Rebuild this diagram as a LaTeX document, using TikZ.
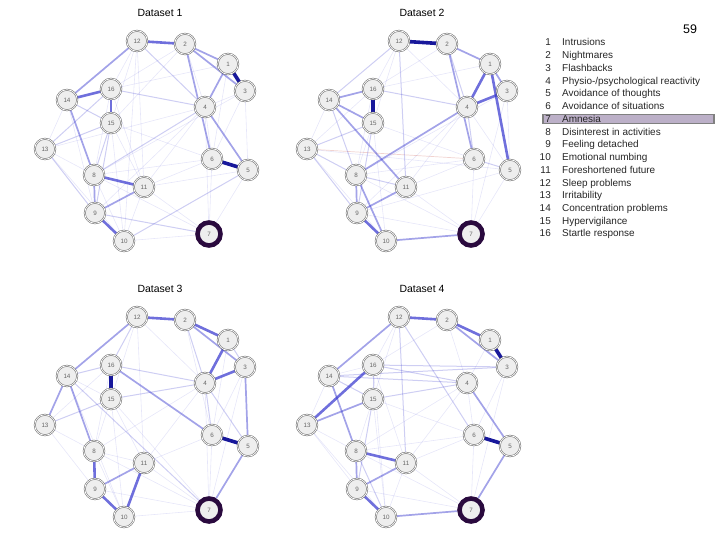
\documentclass[tikz,border=0pt]{standalone}
\usepackage{fontspec}
\setmainfont{Liberation Sans}
\usetikzlibrary{backgrounds}
\definecolor{edgeblue}{RGB}{50,50,205}
\definecolor{edgenavy}{RGB}{12,12,150}
\definecolor{negred}{RGB}{210,110,100}
\definecolor{ringgray}{RGB}{100,100,100}
\definecolor{nodefill}{RGB}{238,238,238}
\definecolor{amnesiaring}{RGB}{42,10,62}
\definecolor{lavender}{RGB}{188,176,200}

% the sixteen symptoms of one panel
\newcommand{\symptomnet}[2]{%
  \begin{scope}[shift={#2}]
    \foreach \n/\px/\py in {12/137/41, 2/185/44, 1/228/64, 3/245/91, 4/205/107, 16/111/89, 14/67/100, 15/111/123,
                            13/45/149, 6/212/159, 5/248/170, 8/94/175, 11/144/187, 9/95/213, 10/124/241}
      \node[symptom] (#1-\n) at (\px,\py) {\n};
    \node[amnesia] (#1-7) at (209,234) {7};
  \end{scope}}
% partial correlations of one panel, one strength at a time
\newcommand{\ties}[3]{\foreach \u/\v in {#3} \draw[#2] (#1-\u) -- (#1-\v);}

\begin{document}
\begin{tikzpicture}[x=1bp,y=-1bp,
  symptom/.style={circle,minimum size=20.5bp,inner sep=0pt,fill=nodefill,draw=ringgray,line width=0.5bp,
    double=white,double distance=0.8bp,font=\fontsize{6.3}{7}\selectfont,text=black!60},
  amnesia/.style={circle,minimum size=23bp,inner sep=0pt,fill=nodefill,draw=amnesiaring,line width=4.6bp,
    font=\fontsize{6.3}{7}\selectfont,text=black!60},
  w1/.style={edgeblue,line width=0.6bp,opacity=0.12},
  w2/.style={edgeblue,line width=1bp,opacity=0.24},
  w3/.style={edgeblue,line width=1.7bp,opacity=0.45},
  w4/.style={edgeblue,line width=2.6bp,opacity=0.7},
  w5/.style={edgenavy,line width=3.6bp,opacity=0.95},
  neg/.style={negred,line width=0.7bp,opacity=0.3},
  title/.style={font=\fontsize{10.5}{12}\selectfont}]
\useasboundingbox (0,0) rectangle (720,540);
% titles
\node[title] (title-a) at (160,13) {Dataset 1};
\node[title] (title-b) at (422,13) {Dataset 2};
\node[title] (title-c) at (160,289) {Dataset 3};
\node[title] (title-d) at (422,289) {Dataset 4};
% nodes
\symptomnet{a}{(0,0)}
\symptomnet{b}{(262,0)}
\symptomnet{c}{(0,276)}
\symptomnet{d}{(262,276)}
% edges
\begin{scope}[on background layer]
\ties{a}{w1}{12/15, 12/11, 2/4, 3/5, 4/6, 4/7, 6/7, 5/7, 10/7, 10/11, 13/8, 13/10, 4/11, 15/10, 16/8, 11/7, 2/16, 1/6, 3/6,
  4/13, 15/6, 8/6, 4/9, 12/16, 3/4, 14/13, 8/10, 16/11, 12/10, 2/15, 1/16, 3/8, 5/11, 6/11, 14/9, 15/11, 8/7}
\ties{a}{w2}{16/4, 13/16, 13/15, 14/15, 4/8, 5/10, 9/7, 15/8, 15/9, 12/4, 13/9}
\ties{a}{w3}{2/1, 1/4, 4/5, 12/14, 2/3, 8/9, 9/11, 14/8, 2/6}
\ties{a}{w4}{12/2, 16/15, 8/11, 9/10, 14/16}
\ties{a}{w5}{1/3, 6/5}
\ties{b}{w1}{12/16, 12/4, 3/7, 6/7, 4/5, 8/6, 15/8, 9/7, 11/7, 11/4, 13/10, 15/10, 3/8, 5/7, 13/16, 12/15, 16/1, 2/16, 3/5,
  4/9, 14/13, 15/6, 16/8, 11/6, 13/5, 8/7, 5/9}
\ties{b}{neg}{13/6}
\ties{b}{w2}{6/5, 13/8, 14/8, 16/4, 13/15, 12/14, 13/9, 8/11, 4/6, 12/11, 2/4, 15/9}
\ties{b}{w3}{2/1, 9/11, 8/9, 14/16, 14/11, 4/8, 2/6, 1/3, 8/10, 10/7, 14/15}
\ties{b}{w4}{1/4, 4/3, 9/10, 1/5}
\ties{b}{w5}{12/2, 16/15}
\ties{c}{w1}{15/7, 13/16, 13/9, 12/15, 12/11, 15/8, 15/10, 6/7, 4/7, 8/11, 8/10, 10/7, 9/7, 11/7, 4/8, 14/15, 12/4, 3/6,
  4/11, 13/8, 16/8, 14/10, 15/11, 6/11, 2/6, 3/7, 8/7, 1/6}
\ties{c}{w2}{4/6, 4/5, 1/3, 14/16, 16/4, 2/4, 14/7, 15/4, 13/15, 12/16}
\ties{c}{w3}{5/7, 9/11, 12/14, 14/13, 14/8, 16/6, 2/3, 3/5}
\ties{c}{w4}{12/2, 2/1, 1/4, 4/3, 8/9, 9/10, 11/10}
\ties{c}{w5}{6/5, 16/15}
\ties{d}{w1}{13/10, 13/9, 16/10, 15/6, 4/6, 2/4, 6/7, 11/7, 9/7, 3/7, 12/16, 8/6, 14/16, 13/14, 15/8, 2/16, 4/8, 11/10,
  12/15, 4/11, 3/6, 16/11, 1/4, 13/8, 15/10, 8/7, 6/11}
\ties{d}{w2}{14/4, 16/15, 12/6, 8/10, 15/9, 16/3, 14/3, 15/4, 12/11, 14/15, 16/4}
\ties{d}{w3}{9/11, 12/14, 4/5, 8/9, 5/7, 10/7, 13/15, 14/8, 2/3}
\ties{d}{w4}{12/2, 13/16, 8/11, 9/10, 2/1}
\ties{d}{w5}{1/3, 6/5}
\end{scope}
% legend
\node[font=\fontsize{12.5}{14}\selectfont] (pagenum) at (690,29) {59};
\node[draw=black!50,line width=1.3bp,fill=lavender,minimum width=171bp,minimum height=9bp,inner sep=0pt] (highlight) at (628.5,118.8) {};
\foreach \n/\lbl [count=\i from 0] in {1/Intrusions, 2/Nightmares, 3/Flashbacks, 4/{Physio-/psychological reactivity},
    5/Avoidance of thoughts, 6/Avoidance of situations, 7/Amnesia, 8/Disinterest in activities, 9/Feeling detached,
    10/Emotional numbing, 11/Foreshortened future, 12/Sleep problems, 13/Irritability, 14/Concentration problems,
    15/Hypervigilance, 16/Startle response} {
  \node[anchor=base east,inner sep=0pt,font=\fontsize{10}{12}\selectfont,text=black!85] (key-\n) at (551,46+12.73*\i) {\n};
  \node[anchor=base west,inner sep=0pt,font=\fontsize{10}{12}\selectfont,text=black!85] (label-\n) at (562,46+12.73*\i) {\lbl};
}
\end{tikzpicture}
\end{document}
